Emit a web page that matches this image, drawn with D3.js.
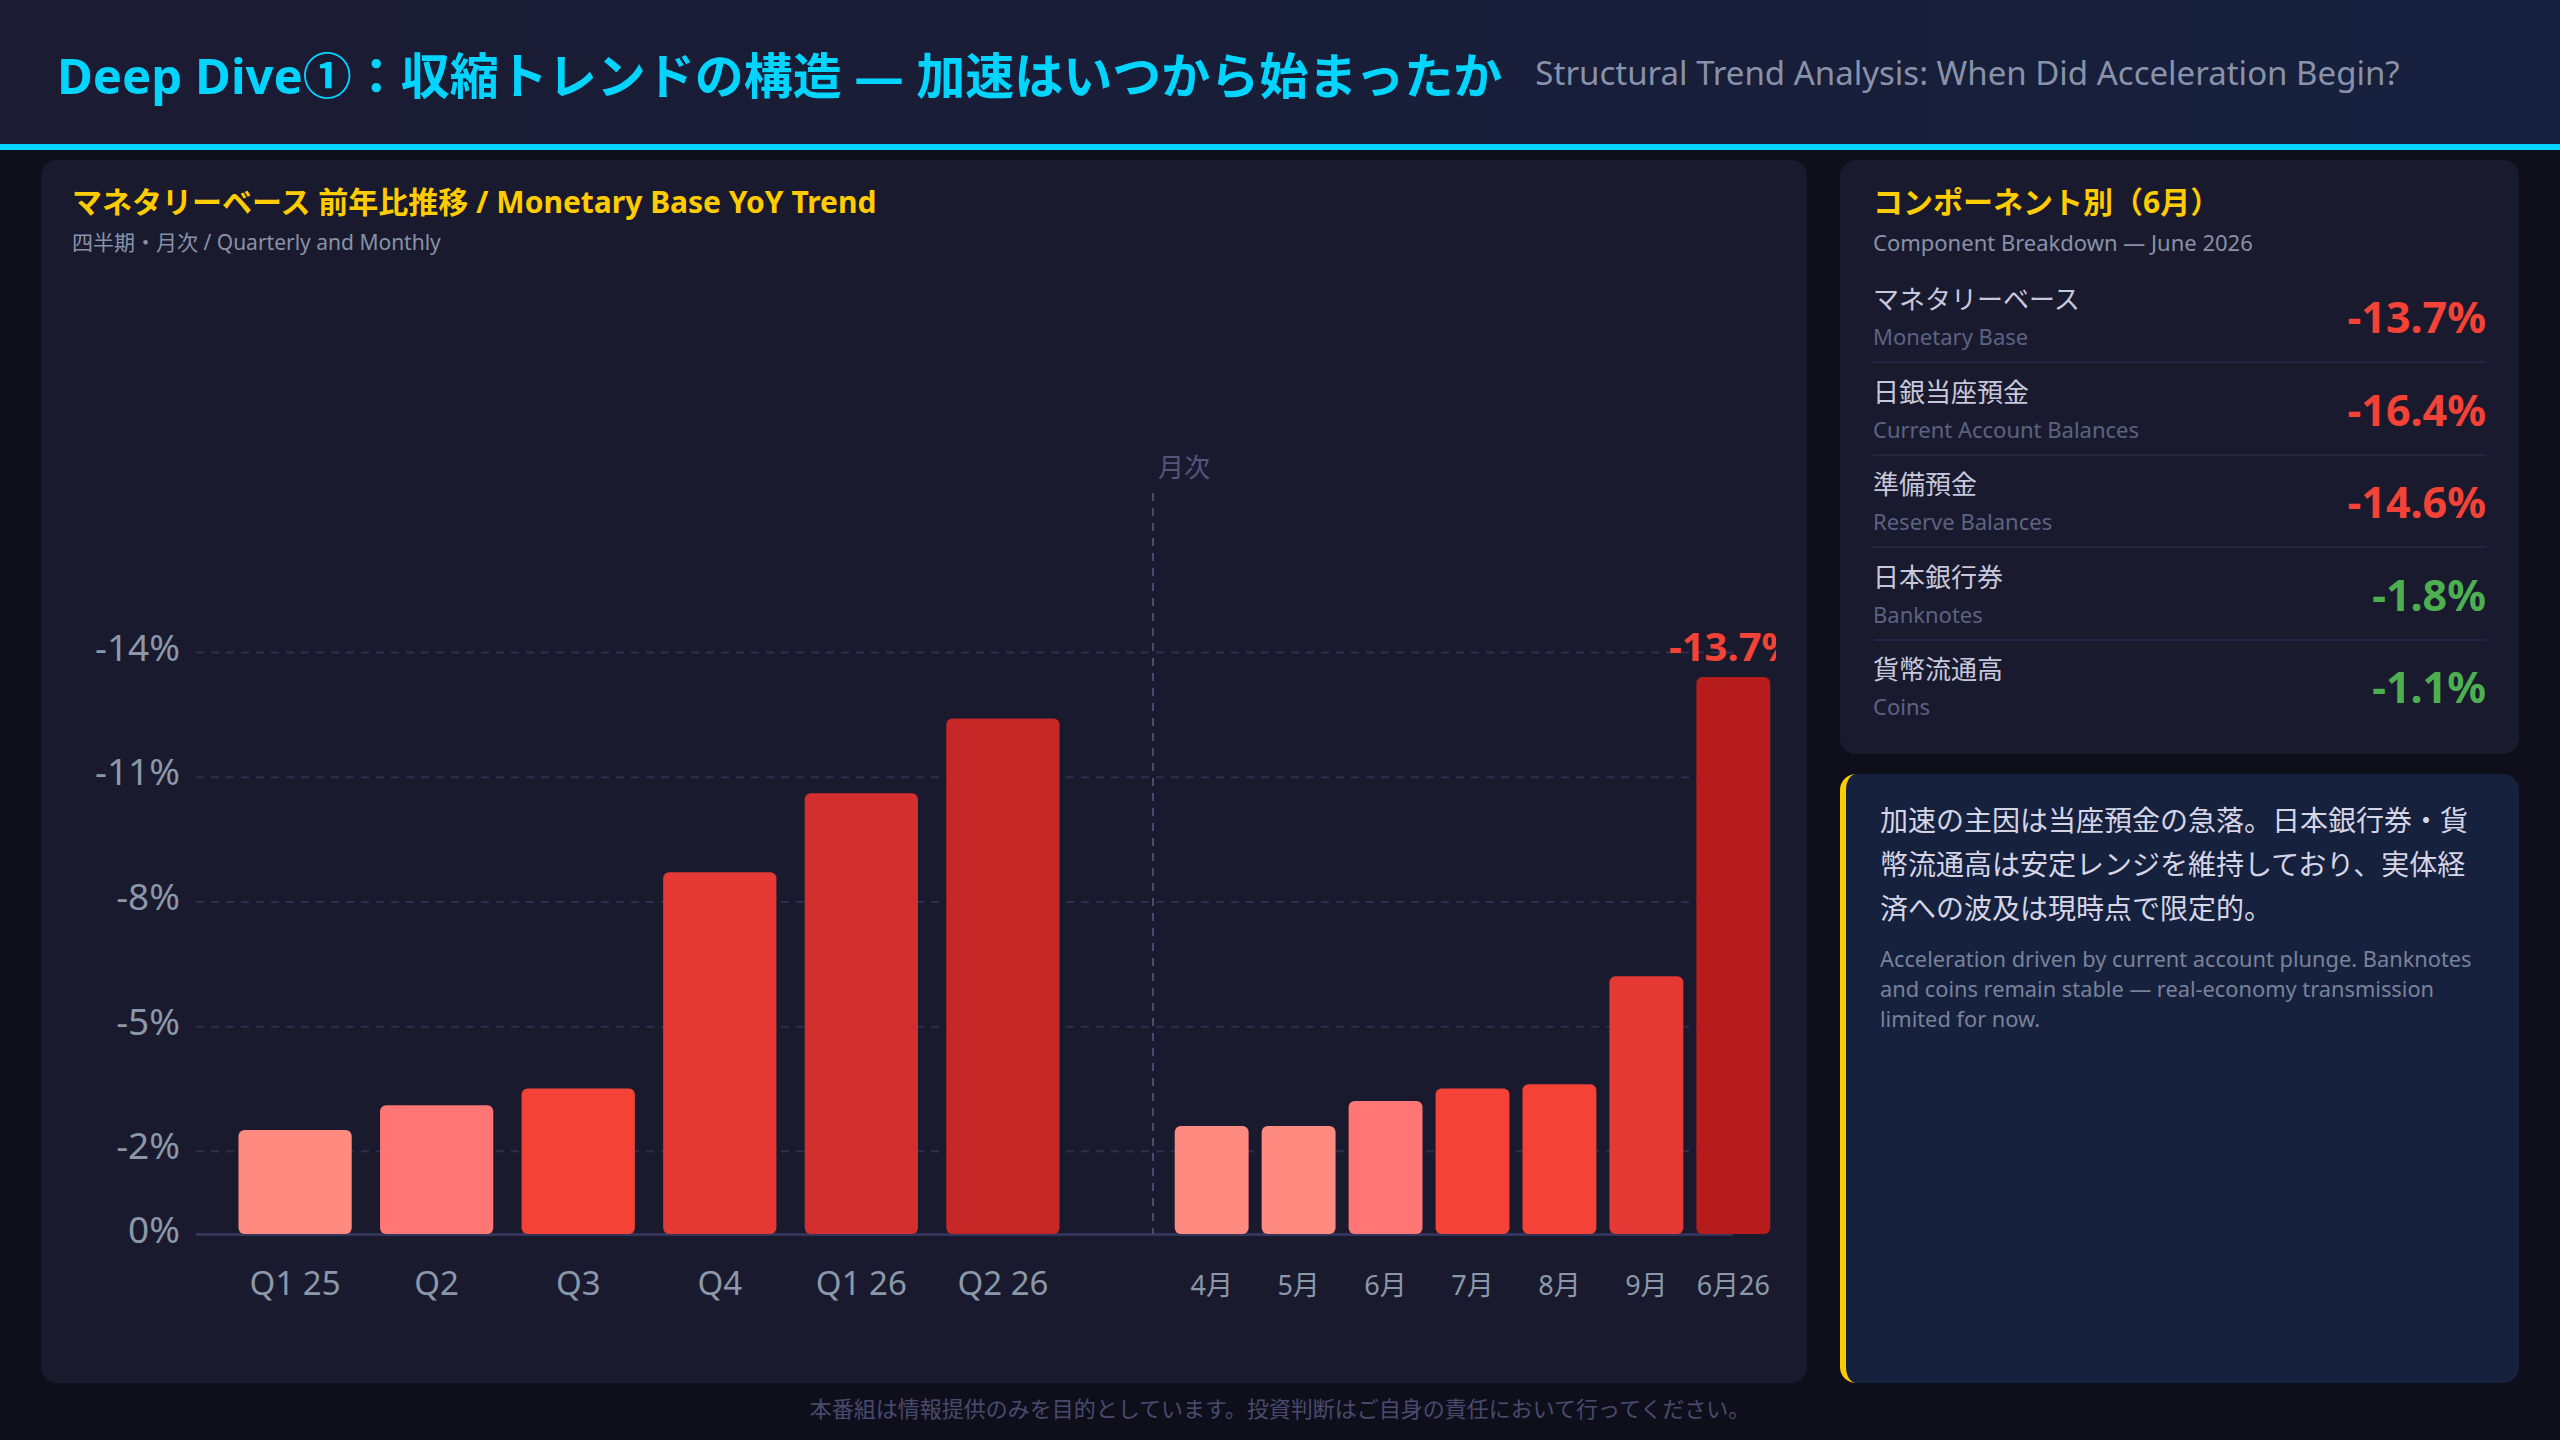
<!DOCTYPE html>
<html lang="ja">
<head>
<meta charset="utf-8">
<script src="https://cdn.jsdelivr.net/npm/d3@7"></script>
<style>
  html, body { margin: 0; padding: 0; }
  body {
    width: 2560px; height: 1440px; overflow: hidden; position: relative;
    background: #0f0f1c;
    font-family: "Noto Sans", "Noto Sans CJK JP", sans-serif;
  }
  .header {
    position: absolute; left: 0; top: 0; width: 2560px; height: 144px;
    background: linear-gradient(90deg, #1b1b32, #16203e);
    border-bottom: 6px solid #00d4ff;
    display: flex; align-items: center; padding-left: 57px; box-sizing: content-box;
  }
  .header h1 { margin: 0; font-size: 49px; font-weight: 700; color: #00d4ff; white-space: nowrap; }
  .header .sub { margin-left: 33px; font-size: 33px; color: #8892a8; white-space: nowrap; }
  .panel { position: absolute; background: #1a1a2e; border-radius: 16px; }
  .ptitle { position: absolute; left: 31px; top: 24px; font-size: 30px; line-height: 36px; font-weight: 700; color: #ffcc00; white-space: nowrap; }
  .psub { position: absolute; left: 31px; top: 70px; font-size: 21px; line-height: 24px; color: #8892a8; white-space: nowrap; }
  .row { position: absolute; left: 33px; width: 613px; height: 91px; }
  .row.sep { border-bottom: 2px solid #25253f; }
  .row .ja { position: absolute; left: 0; top: 12px; font-size: 26px; line-height: 34px; color: #c8c8dc; white-space: nowrap; }
  .row .en { position: absolute; left: 0; top: 53px; font-size: 22px; line-height: 26px; color: #5c6382; white-space: nowrap; }
  .row .val { position: absolute; right: 0; top: 22px; font-size: 43px; line-height: 50px; font-weight: 700; }
  .note {
    position: absolute; left: 1840px; top: 774px; width: 679px; height: 609px; box-sizing: border-box;
    background: #16213e; border-radius: 16px; border-left: 6px solid #ffcc00;
    padding: 24px 32px 0 34px;
  }
  .note .ja { font-size: 28px; line-height: 44px; color: #d5d5e6; white-space: nowrap; }
  .note .en { margin-top: 14px; font-size: 21.8px; line-height: 30px; color: #7a8299; white-space: nowrap; }
  .footer { position: absolute; left: 0; top: 1396px; width: 2560px; text-align: center; font-size: 22px; line-height: 24px; color: #4a4a6e; }
  svg text { font-family: "Noto Sans", "Noto Sans CJK JP", sans-serif; }
</style>
</head>
<body>
<div class="header">
  <h1>Deep Dive①：収縮トレンドの構造 — 加速はいつから始まったか</h1>
  <span class="sub">Structural Trend Analysis: When Did Acceleration Begin?</span>
</div>

<div class="panel" id="chart-panel" style="left:41px; top:160px; width:1766px; height:1223px;">
  <div class="ptitle">マネタリーベース 前年比推移 / Monetary Base YoY Trend</div>
  <div class="psub">四半期・月次 / Quarterly and Monthly</div>
</div>

<div class="panel" id="comp-panel" style="left:1840px; top:160px; width:679px; height:594px;">
  <div class="ptitle" style="left:33px;">コンポーネント別（6月）</div>
  <div class="psub" style="left:33px; font-size:22px;">Component Breakdown — June 2026</div>
</div>

<div class="note" id="note"></div>

<div class="footer">本番組は情報提供のみを目的としています。投資判断はご自身の責任において行ってください。</div>

<script>
// Chart data
const quarterLabels = ['Q1 25', 'Q2', 'Q3', 'Q4', 'Q1 26', 'Q2 26'];
const quarterValues = [-2.5, -3.1, -3.5, -8.7, -10.6, -12.4];
const monthLabels = ['4月', '5月', '6月', '7月', '8月', '9月', '6月26'];
const monthValues = [-2.6, -2.6, -3.2, -3.5, -3.6, -6.2, -13.4];
const yTicks = [0, -2, -5, -8, -11, -14];

// Component breakdown (June)
const compNamesJa = ['マネタリーベース', '日銀当座預金', '準備預金', '日本銀行券', '貨幣流通高'];
const compNamesEn = ['Monetary Base', 'Current Account Balances', 'Reserve Balances', 'Banknotes', 'Coins'];
const compValues = [-13.7, -16.4, -14.6, -1.8, -1.1];

// Note text
const noteJaLines = [
    '加速の主因は当座預金の急落。日本銀行券・貨',
    '幣流通高は安定レンジを維持しており、実体経',
    '済への波及は現時点で限定的。'
];
const noteEnLines = [
    'Acceleration driven by current account plunge. Banknotes',
    'and coins remain stable — real-economy transmission',
    'limited for now.'
];

// Bar colour by depth of contraction
const barColor = d3.scaleThreshold()
    .domain([-13, -12, -10, -6, -3.4, -3])
    .range(['#b71c1c', '#c62828', '#d32f2f', '#e53935', '#f44336', '#ff7675', '#ff8a80']);

const fmtPct = v => `${v}%`;

// ---- Chart ----
const W = 1735, H = 1223;
const plotLeft = 155, plotRight = 1692;
const divX = 1112;

const svg = d3.select('body').append('svg')
    .attr('width', W)
    .attr('height', H)
    .style('position', 'absolute')
    .style('left', '41px')
    .style('top', '160px');

const y = d3.scaleLinear().domain([0, -14]).range([1074, 492]);

const xQ = d3.scaleBand()
    .domain(quarterLabels)
    .range([plotLeft, 1061])
    .paddingInner(0.2)
    .paddingOuter(0.3);

const xM = d3.scaleBand()
    .domain(monthLabels)
    .range([divX, 1751])
    .paddingInner(0.15)
    .paddingOuter(0.25);

// Y axis + grid
const yAxis = svg.append('g')
    .attr('transform', `translate(${plotLeft},0)`)
    .call(d3.axisLeft(y)
        .tickValues(yTicks)
        .tickSize(-(plotRight - plotLeft))
        .tickPadding(16)
        .tickFormat(fmtPct));
yAxis.select('.domain').remove();
yAxis.selectAll('.tick line')
    .attr('stroke', d => d === 0 ? '#34345a' : '#2e2e4e')
    .attr('stroke-width', d => d === 0 ? 3 : 2)
    .attr('stroke-dasharray', d => d === 0 ? null : '8 7');
yAxis.selectAll('.tick text')
    .attr('fill', '#8b98a9')
    .attr('dy', '0.22em')
    .style('font-size', '37px');

// Divider between quarterly and monthly
svg.append('line')
    .attr('x1', divX).attr('x2', divX)
    .attr('y1', 333).attr('y2', y(0))
    .attr('stroke', '#4a4a70')
    .attr('stroke-width', 2)
    .attr('stroke-dasharray', '8 7');

svg.append('text')
    .attr('x', divX + 5)
    .attr('y', 317)
    .attr('fill', '#55557a')
    .style('font-size', '26px')
    .text('月次');

// X axes
const xAxisQ = svg.append('g')
    .attr('transform', `translate(0,${y(0)})`)
    .call(d3.axisBottom(xQ).tickSize(0).tickPadding(38));
xAxisQ.select('.domain').remove();
xAxisQ.selectAll('.tick text')
    .attr('fill', '#8b98a9')
    .style('font-size', '33px')
    .style('white-space', 'pre');

const xAxisM = svg.append('g')
    .attr('transform', `translate(0,${y(0)})`)
    .call(d3.axisBottom(xM).tickSize(0).tickPadding(42));
xAxisM.select('.domain').remove();
xAxisM.selectAll('.tick text')
    .attr('fill', '#8b98a9')
    .style('font-size', '27px');

// Bars
svg.append('g').selectAll('rect')
    .data(quarterValues)
    .join('rect')
    .attr('x', (d, i) => xQ(quarterLabels[i]))
    .attr('width', xQ.bandwidth())
    .attr('y', d => y(d))
    .attr('height', d => y(0) - y(d))
    .attr('rx', 6)
    .attr('fill', d => barColor(d));

svg.append('g').selectAll('rect')
    .data(monthValues)
    .join('rect')
    .attr('x', (d, i) => xM(monthLabels[i]))
    .attr('width', xM.bandwidth())
    .attr('y', d => y(d))
    .attr('height', d => y(0) - y(d))
    .attr('rx', 6)
    .attr('fill', d => barColor(d));

// Headline label over latest month (clipped at the panel edge, as in the source)
const lastIdx = monthLabels.length - 1;
svg.append('text')
    .attr('x', xM(monthLabels[lastIdx]) + xM.bandwidth() / 2)
    .attr('y', y(monthValues[lastIdx]) - 16)
    .attr('text-anchor', 'middle')
    .attr('fill', '#f44336')
    .style('font-size', '40px')
    .style('font-weight', 700)
    .text(fmtPct(compValues[0]));

// ---- Component panel ----
const rows = d3.select('#comp-panel').selectAll('div.row')
    .data(compValues)
    .join('div')
    .attr('class', (d, i) => i < compValues.length - 1 ? 'row sep' : 'row')
    .style('top', (d, i) => (110 + i * 92.5) + 'px');

rows.append('div').attr('class', 'ja').text((d, i) => compNamesJa[i]);
rows.append('div').attr('class', 'en').text((d, i) => compNamesEn[i]);
rows.append('div').attr('class', 'val')
    .style('color', d => d <= -5 ? '#f44336' : '#4caf50')
    .text(d => fmtPct(d));

// ---- Note panel ----
const note = d3.select('#note');
note.append('div').attr('class', 'ja')
    .selectAll('div').data(noteJaLines).join('div').text(d => d);
note.append('div').attr('class', 'en')
    .selectAll('div').data(noteEnLines).join('div').text(d => d);
</script>
</body>
</html>
